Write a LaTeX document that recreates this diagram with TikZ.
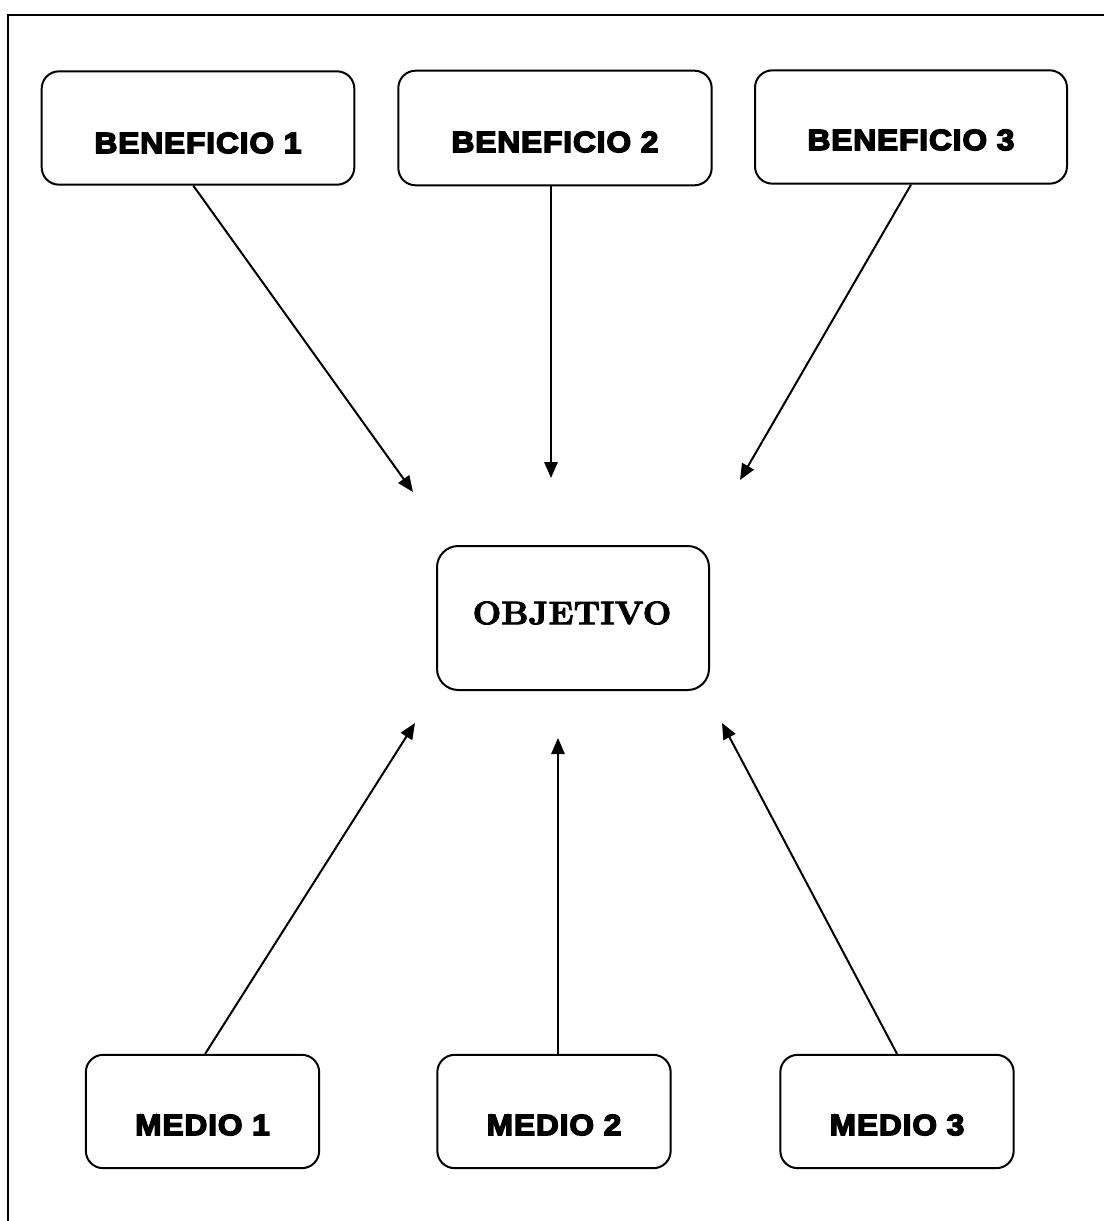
\documentclass[tikz,border=0pt]{standalone}
\usepackage{fontspec}
\usepackage{graphicx}
\usetikzlibrary{arrows.meta}
\newfontfamily\heavyfont[UprightFont=* Bold, FakeStretch=1.08, FakeBold=5, LetterSpace=3]{Liberation Sans}
\newfontfamily\objfont{lmroman10-bold}[Extension=.otf, FakeBold=2.5]
\tikzset{
  box/.style={draw, line width=1.5pt, rounded corners=13pt, inner sep=0pt},
  btext/.style={font=\heavyfont\fontsize{22pt}{24pt}\selectfont, inner sep=0pt},
  otext/.style={font=\objfont\fontsize{24.5pt}{26pt}\selectfont, inner sep=0pt},
  conn/.style={line width=1.5pt, -{Triangle[length=12pt, width=10pt]}},
  frame/.style={line width=1.1pt}
}
\begin{document}
\begin{tikzpicture}[x=0.75pt, y=-0.75pt]
\useasboundingbox (0,0) rectangle (1104,1221);
\draw[frame] (8,1221) -- (8,15) -- (1104,15);
% top boxes
\node[box, minimum width=234.5pt, minimum height=85pt] (b1) at (198,128) {};
\node[box, minimum width=235pt, minimum height=86pt] (b2) at (555,128) {};
\node[box, minimum width=234pt, minimum height=85pt] (b3) at (911,127) {};
\node[btext] (b1t) at (198,143) {BENEFICIO 1};
\node[btext] (b2t) at (555,142) {BENEFICIO 2};
\node[btext] (b3t) at (911,140) {BENEFICIO 3};
% objective
\node[box, rounded corners=16pt, minimum width=204pt, minimum height=108pt] (obj) at (573,618) {};
\node[otext] (objt) at (572,613) {\scalebox{1.02}[1]{OBJETIVO}};
% bottom boxes
\node[box, minimum width=175pt, minimum height=85pt] (m1) at (202.5,1111.5) {};
\node[box, minimum width=175pt, minimum height=85pt] (m2) at (554,1111.5) {};
\node[box, minimum width=175pt, minimum height=85pt] (m3) at (897,1111.5) {};
\node[btext] (m1t) at (202.5,1125) {MEDIO 1};
\node[btext] (m2t) at (554,1125) {MEDIO 2};
\node[btext] (m3t) at (897,1125) {MEDIO 3};
% arrow targets
\coordinate (t1) at (413,492);
\coordinate (t2) at (551,478);
\coordinate (t3) at (740,480);
\coordinate (u1) at (415,723);
\coordinate (u2) at (558,738);
\coordinate (u3) at (722,723);
\draw[conn] ([xshift=-3.5pt]b1.south) -- (t1);
\draw[conn] ([xshift=-3pt]b2.south) -- ([xshift=-3pt]b2.south |- t2);
\draw[conn] (b3.south) -- (t3);
\draw[conn] ([xshift=2pt]m1.north) -- (u1);
\draw[conn] (u2 |- m2.north) -- (u2);
\draw[conn] (m3.north) -- (u3);
\end{tikzpicture}
\end{document}
